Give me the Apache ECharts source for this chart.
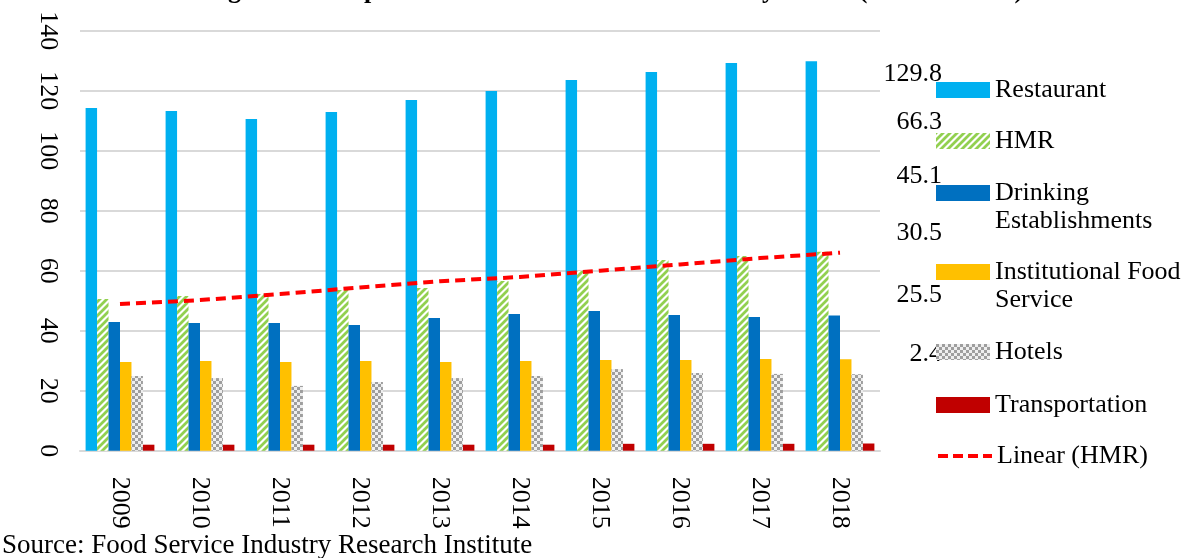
<!DOCTYPE html>
<html>
<head>
<meta charset="utf-8">
<script src="https://cdn.jsdelivr.net/npm/echarts@6.0.0/dist/echarts.min.js"></script>
<style>
html,body{margin:0;padding:0;background:#fff;}
#chart{width:1188px;height:558px;}
</style>
</head>
<body>
<div id="chart"></div>
<script>
const years = ['2009','2010','2011','2012','2013','2014','2015','2016','2017','2018'];
const restaurant = [114.2,113.2,110.6,112.9,116.9,119.9,123.6,126.2,129.2,129.8];
const hmr = [50.6,51.6,52.2,53.6,54.2,56.6,59.9,63.6,64.9,66.3];
const drinking = [42.9,42.6,42.6,41.9,44.2,45.6,46.6,45.2,44.6,45.1];
const institutional = [29.6,29.9,29.6,29.9,29.6,29.9,30.2,30.2,30.6,30.5];
const hotels = [24.9,24.2,21.6,22.9,24.2,24.9,27.2,25.9,25.6,25.5];
const transportation = [2.0,2.0,2.0,2.0,2.0,2.0,2.3,2.3,2.3,2.4];
const hmrTrend = [48.9,50.2,52.2,54.4,56.5,57.9,60.0,62.1,64.2,66.0];
const yMin = 0, yMax = 140, yStep = 20;
const seriesNames = ['Restaurant','HMR','Drinking Establishments','Institutional Food Service','Hotels','Transportation','Linear (HMR)'];
const titleText = 'Figure 2. Composition of the Food Service Industry Sector (trillion KRW)';
const sourceText = 'Source: Food Service Industry Research Institute';

const FONT = 'Liberation Serif, Times New Roman, serif';
const FS = 26;

function stripeTile(){
  const s = 7;
  const c = document.createElement('canvas'); c.width = s; c.height = s;
  const g = c.getContext('2d');
  g.fillStyle = '#ffffff'; g.fillRect(0,0,s,s);
  g.strokeStyle = '#92D050'; g.lineWidth = 2.8;
  g.beginPath();
  g.moveTo(-2, s+2); g.lineTo(s+2, -2);
  g.moveTo(-2, 2); g.lineTo(2, -2);
  g.moveTo(s-2, s+2); g.lineTo(s+2, s-2);
  g.stroke();
  return c;
}
function checkTile(){
  const c = document.createElement('canvas'); c.width = 6; c.height = 6;
  const g = c.getContext('2d');
  g.fillStyle = '#EEEEEE'; g.fillRect(0,0,6,6);
  g.fillStyle = '#9E9E9E'; g.fillRect(0,0,3,3); g.fillRect(3,3,3,3);
  return c;
}
const stripePattern = {image: stripeTile(), repeat: 'repeat'};
const checkPattern = {image: checkTile(), repeat: 'repeat'};

const barColors = ['#00B0F0', stripePattern, '#0070C0', '#FFC000', checkPattern, '#C00000'];
const barData = [restaurant, hmr, drinking, institutional, hotels, transportation];

const series = barData.map((d, i) => ({
  name: seriesNames[i],
  type: 'bar',
  data: d,
  barGap: '0%',
  barCategoryGap: '14%',
  itemStyle: {color: barColors[i]}
}));
series.push({
  name: seriesNames[6],
  type: 'line',
  data: hmrTrend,
  symbol: 'none',
  showSymbol: false,
  z: 10,
  lineStyle: {color: '#FF0000', width: 4, type: [10, 6]},
  itemStyle: {color: '#FF0000'}
});

const legendCenters = [90, 141, 193, 272, 352, 405, 456];
const legendFormat = {
  'Drinking Establishments': '\nDrinking\nEstablishments',
  'Institutional Food Service': '\nInstitutional Food\nService'
};
const legends = seriesNames.map((n, i) => {
  const two = !!legendFormat[n];
  const isLine = i === 6;
  const leg = {
    orient: 'vertical',
    left: 936,
    top: legendCenters[i] - (two ? 42 : 15),
    padding: 0,
    itemWidth: 54,
    itemHeight: 16,
    itemGap: 0,
    selectedMode: false,
    data: [n],
    formatter: two ? (() => legendFormat[n]) : undefined,
    textStyle: {
      fontFamily: FONT, fontSize: FS, color: '#000', lineHeight: two ? 28 : 30
    }
  };
  if (isLine) {
    leg.itemStyle = {opacity: 0};
    leg.lineStyle = {color: '#FF0000', width: 4, type: [10, 5]};
  } else {
    leg.icon = 'rect';
  }
  return leg;
});

// Excel-style data labels of the last year, displaced to the legend area
const lastVals = barData.map(d => d[d.length - 1]);
const labelYs = [76, 124, 178, 235, 297, 356];
const labelGraphics = lastVals.map((v, i) => ({
  type: 'text',
  right: 1188 - 942,
  top: labelYs[i] - 15,
  z: 1,
  style: {text: v.toFixed(1), font: FS + 'px ' + FONT, fill: '#000'}
}));

const chart = echarts.init(document.getElementById('chart'), null, {renderer: 'canvas'});
chart.setOption({
  backgroundColor: '#ffffff',
  animation: false,
  grid: {left: 80, right: 308, top: 30.7, bottom: 107.3, containLabel: false},
  xAxis: {
    type: 'category',
    data: years,
    axisLine: {show: true, lineStyle: {color: '#D9D9D9', width: 2}},
    axisTick: {show: false},
    axisLabel: {rotate: -90, margin: 26, fontFamily: FONT, fontSize: FS, color: '#000'}
  },
  yAxis: {
    type: 'value',
    min: yMin, max: yMax, interval: yStep,
    axisLine: {show: false},
    axisTick: {show: false},
    splitLine: {lineStyle: {color: '#D9D9D9', width: 2}},
    axisLabel: {rotate: -90, margin: 19, fontFamily: FONT, fontSize: FS, color: '#000'}
  },
  legend: legends,
  graphic: [
    {
      type: 'text', left: 205, top: -22,
      style: {text: titleText, font: 'bold 26px ' + FONT, fill: '#000'}
    },
    {
      type: 'text', left: 2, top: 532,
      style: {text: sourceText, font: '27px ' + FONT, fill: '#000'}
    }
  ].concat(labelGraphics),
  series: series
});
</script>
</body>
</html>
